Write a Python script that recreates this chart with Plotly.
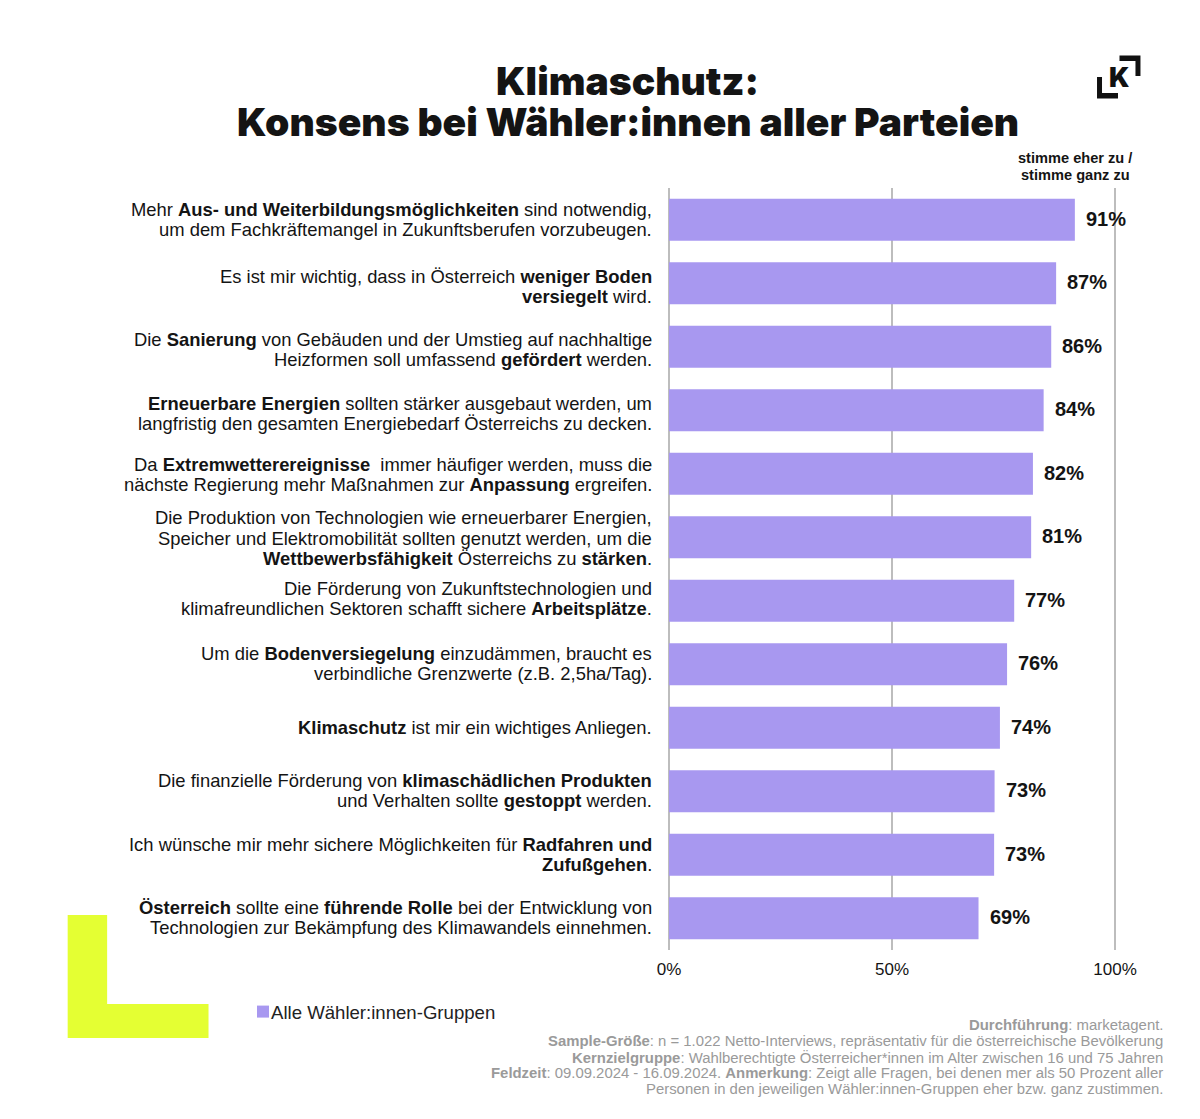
import plotly.graph_objects as go

W, H = 1200, 1119
M_L, M_R, M_T, M_B = 668.5, 85, 188, 169

# Daten
aussagen = [
    ["Mehr <b>Aus- und Weiterbildungsmöglichkeiten</b> sind notwendig,", "um dem Fachkräftemangel in Zukunftsberufen vorzubeugen."],
    ["Es ist mir wichtig, dass in Österreich <b>weniger Boden</b>", "<b>versiegelt</b> wird."],
    ["Die <b>Sanierung</b> von Gebäuden und der Umstieg auf nachhaltige", "Heizformen soll umfassend <b>gefördert</b> werden."],
    ["<b>Erneuerbare Energien</b> sollten stärker ausgebaut werden, um", "langfristig den gesamten Energiebedarf Österreichs zu decken."],
    ["Da <b>Extremwetterereignisse</b>  immer häufiger werden, muss die", "nächste Regierung mehr Maßnahmen zur <b>Anpassung</b> ergreifen."],
    ["Die Produktion von Technologien wie erneuerbarer Energien,", "Speicher und Elektromobilität sollten genutzt werden, um die", "<b>Wettbewerbsfähigkeit</b> Österreichs zu <b>stärken</b>."],
    ["Die Förderung von Zukunftstechnologien und", "klimafreundlichen Sektoren schafft sichere <b>Arbeitsplätze</b>."],
    ["Um die <b>Bodenversiegelung</b> einzudämmen, braucht es", "verbindliche Grenzwerte (z.B. 2,5ha/Tag)."],
    ["<b>Klimaschutz</b> ist mir ein wichtiges Anliegen."],
    ["Die finanzielle Förderung von <b>klimaschädlichen Produkten</b>", "und Verhalten sollte <b>gestoppt</b> werden."],
    ["Ich wünsche mir mehr sichere Möglichkeiten für <b>Radfahren und</b>", "<b>Zufußgehen</b>."],
    ["<b>Österreich</b> sollte eine <b>führende Rolle</b> bei der Entwicklung von", "Technologien zur Bekämpfung des Klimawandels einnehmen."],
]
werte = [91.0, 86.8, 85.7, 84.0, 81.6, 81.2, 77.4, 75.8, 74.2, 73.0, 72.9, 69.4]
wert_labels = ["91%", "87%", "86%", "84%", "82%", "81%", "77%", "76%", "74%", "73%", "73%", "69%"]
achsen_ticks = [0, 50, 100]
achsen_labels = ["0%", "50%", "100%"]
serie = "Alle Wähler:innen-Gruppen"
titel = ["Klimaschutz:", "Konsens bei Wähler:innen aller Parteien"]
kopf = ["stimme eher zu /", "stimme ganz zu"]
fussnote = [
    "<b>Durchführung</b>: marketagent.",
    "<b>Sample-Größe</b>: n = 1.022 Netto-Interviews, repräsentativ für die österreichische Bevölkerung",
    "<b>Kernzielgruppe</b>: Wahlberechtigte Österreicher*innen im Alter zwischen 16 und 75 Jahren",
    "<b>Feldzeit</b>: 09.09.2024 - 16.09.2024. <b>Anmerkung</b>: Zeigt alle Fragen, bei denen mer als 50 Prozent aller",
    "Personen in den jeweiligen Wähler:innen-Gruppen eher bzw. ganz zustimmen.",
]

kategorien = [" ".join(z).replace("<b>", "").replace("</b>", "") for z in aussagen]

FONT = "Liberation Sans"
LILA = "#a898f0"
TEXT = "#141414"
GRID = "#bdbdbd"
# Die Textblöcke sitzen im Original nicht überall mittig zum Balken
block_versatz = [0, 3, 3, 3, 1, 1, -2, -1, 0, -1, 0, -1]


# Pixel im Bild -> paper-Koordinaten
def px(x):
    return (x - M_L) / (W - M_L - M_R)


def py(y):
    return (H - M_B - y) / (H - M_T - M_B)


def text_px(x, y, text, size, anchor="center", color=TEXT, family=FONT, weight=None):
    return dict(x=px(x), y=py(y), xref="paper", yref="paper", text=text, showarrow=False,
                xanchor=anchor, yanchor="middle", align=anchor if anchor != "center" else "center",
                font=dict(family=family, size=size, color=color, weight=weight))


def poly(punkte, farbe):
    pfad = "M " + " L ".join(f"{px(a):.5f} {py(b):.5f}" for a, b in punkte) + " Z"
    return dict(type="path", xref="paper", yref="paper", path=pfad, fillcolor=farbe, line_width=0)


fig = go.Figure()
fig.add_trace(go.Bar(
    x=werte,
    y=kategorien,
    orientation="h",
    name=serie,
    width=0.66,
    marker=dict(color=LILA, line_width=0),
    showlegend=True,
))

annos = []

# Aussagen links neben den Balken
for kat, zeilen, versatz in zip(kategorien, aussagen, block_versatz):
    start = -(len(zeilen) - 1) * 10.2 + versatz
    for i, zeile in enumerate(zeilen):
        annos.append(dict(x=px(653.5), y=kat, xref="paper", yref="y", yshift=-(start + i * 20.4),
                          text=zeile, showarrow=False, xanchor="right", yanchor="middle",
                          font=dict(family=FONT, size=18.4, color=TEXT)))

# Prozentwerte
for kat, wert, label in zip(kategorien, werte, wert_labels):
    annos.append(dict(x=wert, y=kat, xref="x", yref="y", xshift=9, yshift=1, text=f"<b>{label}</b>",
                      showarrow=False, xanchor="left", yanchor="middle",
                      font=dict(family=FONT, size=20, color=TEXT)))

# Titel
annos.append(text_px(627, 81, titel[0], 39, family="Inter", weight=900))
annos.append(text_px(627, 121, titel[1], 39, family="Inter", weight=900))

# Kopf rechts oben
annos.append(text_px(1075, 158, f"<b>{kopf[0]}</b>", 14.6))
annos.append(text_px(1075, 175, f"<b>{kopf[1]}</b>", 14.6))

# Fussnote
for i, zeile in enumerate(fussnote):
    annos.append(text_px(1165, 1025 + i * 16.1, zeile, 14.9, anchor="right", color="#9a9a9a"))

# Logo K
annos.append(text_px(1119.5, 78, "K", 27, family="Inter", weight=900, color="#111111"))

formen = [
    # gelbes L
    poly([(66.5, 915), (106, 915), (106, 1004), (207.5, 1004), (207.5, 1038), (66.5, 1038)], "#e4ff33"),
    # Klammern vom Logo
    poly([(1097, 77), (1102, 77), (1102, 93), (1118, 93), (1118, 98.5), (1097, 98.5)], "#111111"),
    poly([(1119.5, 55.5), (1140.5, 55.5), (1140.5, 76), (1135.5, 76), (1135.5, 61), (1119.5, 61)], "#111111"),
]

# Gitterlinien in paper-Koordinaten, sonst werden 0 und 100 am Rand abgeschnitten
for t in achsen_ticks:
    formen.append(dict(type="line", xref="paper", yref="paper", x0=t / 100, x1=t / 100, y0=0, y1=1,
                       layer="below", line=dict(color=GRID, width=2)))

fig.update_layout(
    width=W,
    height=H,
    margin=dict(l=M_L, r=M_R, t=M_T, b=M_B, pad=0),
    paper_bgcolor="white",
    plot_bgcolor="white",
    font=dict(family=FONT, color=TEXT),
    annotations=annos,
    shapes=formen,
    bargap=0.34,
    legend=dict(x=px(242), y=py(1012), xanchor="left", yanchor="middle",
                font=dict(family=FONT, size=18.6, color="#222222"),
                bgcolor="rgba(0,0,0,0)", itemwidth=30),
    xaxis=dict(
        range=[0, 100],
        tickvals=achsen_ticks,
        ticktext=achsen_labels,
        showgrid=False,
        zeroline=False,
        showline=False,
        ticks="",
        tickfont=dict(family=FONT, size=17, color=TEXT),
        ticklabelstandoff=7,
    ),
    yaxis=dict(
        categoryorder="array",
        categoryarray=kategorien,
        autorange="reversed",
        showticklabels=False,
        showgrid=False,
        zeroline=False,
        showline=False,
        ticks="",
    ),
)

# Seitenrand weg, Legendentext näher an das Kästchen
fig.write_html(
    "out.html",
    config={"displayModeBar": False},
    post_script="document.body.style.margin='0';"
                "document.querySelectorAll('.legendtext').forEach(function(t){t.setAttribute('x', 28);});",
)
